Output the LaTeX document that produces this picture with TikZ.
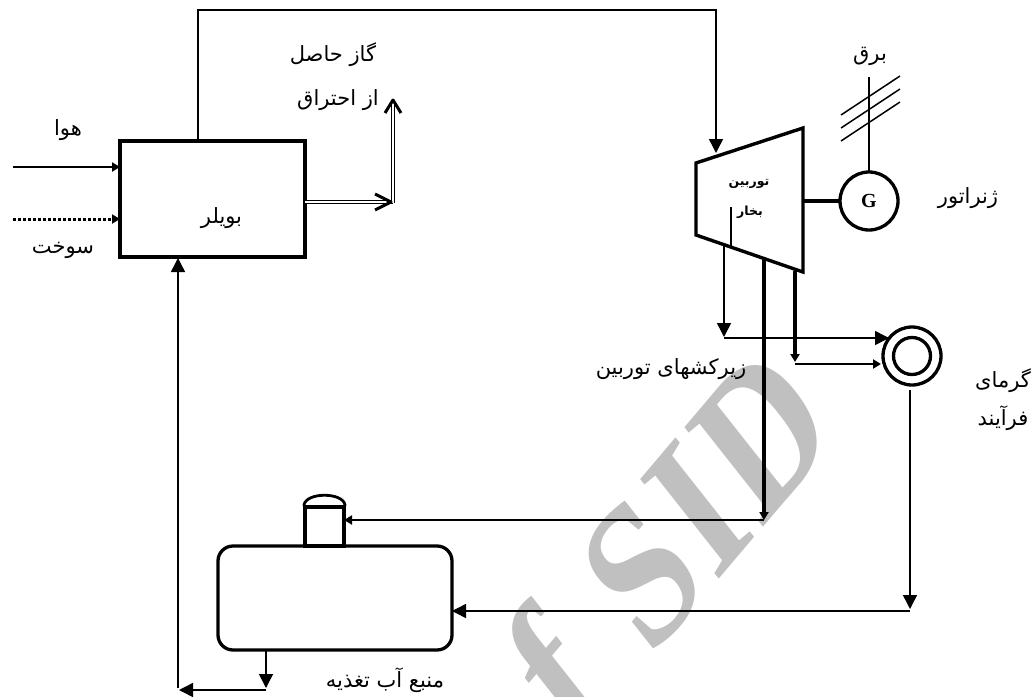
\documentclass[tikz,border=0pt]{standalone}
\usepackage{fontspec}
\usepackage{tikz}
\usetikzlibrary{arrows.meta,calc,positioning}
\setmainfont{Liberation Serif}
\newfontfamily\farsi[Script=Arabic]{DejaVu Sans}
\TeXXeTstate=1
\newcommand{\fa}[1]{{\farsi\beginR #1\endR}}
\definecolor{markgray}{HTML}{C0C0C0}
\begin{document}
\begin{tikzpicture}[line cap=butt,line join=miter,
  bigtip/.style={-{Triangle[length=14pt,width=14pt]}},
  smalltip/.style={-{Triangle[length=8pt,width=9pt]}},
  thin line/.style={line width=1.5pt},
  mid line/.style={line width=2.8pt},
  thick line/.style={line width=3.4pt},
  unit/.style={draw,line width=3.3pt,inner sep=0pt,outer sep=0pt},
  caption/.style={inner sep=0pt,font=\fontsize{21}{25}\selectfont},
  gas line/.style={line width=.9pt,double,double distance=1.6pt}]
\begin{scope}[x=1pt,y=-1pt]
  \path[use as bounding box] (0,0) rectangle (1033,696);
  \fill[white] (0,0) rectangle (1033,696);
  \clip (0,0) rectangle (1033,696);
  % watermark
  \begin{scope}[cm={1.1,1.3,-1.2,1.52,(841,435)},transform shape]
    \node[text=markgray,anchor=base east,inner sep=0pt,font=\fontsize{100}{100}\selectfont\bfseries] (mark) at (0,0) {f\kern.08em\ S\kern.03em I\kern.03em D};
  \end{scope}
  % boiler, turbine, generator
  \node[unit,minimum width=185pt,minimum height=116pt] (boiler) at (212.5,199) {};
  \coordinate (tl) at (696,163);
  \coordinate (tr) at (803,128);
  \coordinate (br) at (803,272);
  \coordinate (bl) at (696,235);
  \draw[thick line] (tl)--(tr)--(br)--(bl)--cycle;
  \node[unit,circle,minimum size=58pt] (gen) at (869,201) {\fontsize{20}{20}\selectfont\bfseries G};
  \draw[line width=4.5pt] (803,201)--(gen.west);
  % heat consumer and feed tank
  \node[unit,circle,minimum size=58pt] (heat) at (912,356) {};
  \node[unit,circle,minimum size=37pt] (heatin) at (heat.center) {};
  \node[unit,rounded corners=15pt,minimum width=234pt,minimum height=104pt] (tank) at (335,598) {};
  \node[unit,minimum width=39pt,minimum height=39pt,anchor=south] (neck) at (324.5,546) {};
  \draw[line width=2.8pt,line join=round] (neck.north west)--++(-1,-2) .. controls (306,492) and (343,492) .. (345,505)--(neck.north east)--cycle;
  % inlets of the boiler
  \coordinate (airin) at (13,167);
  \coordinate (fuelin) at (13,219);
  \draw[mid line,smalltip] (airin)--(airin -| boiler.west);
  \draw[line width=3pt,dash pattern=on 3pt off 2pt,-{Triangle[length=8pt,width=9pt]}] (fuelin)--(fuelin -| boiler.west);
  % flue gas
  \coordinate (gascorner) at (393,202);
  \coordinate (gastop) at (393,100);
  \draw[gas line] (boiler.east |- gascorner)--(gascorner);
  \draw[gas line] (393,203)--(gastop);
  \draw[line width=3pt,line join=round] (375,194)--(391,202)--(375,210);
  \draw[line width=3pt,line join=round] (385,113)--(393,100)--(401,113);
  % steam to the turbine
  \coordinate (steamup) at (198,10);
  \coordinate (steamin) at (716,153);
  \draw[thin line,bigtip] (boiler.north -| steamup)--(steamup)--(steamup -| steamin)--(steamin);
  % generator wires
  \coordinate (wiretop) at (869,77);
  \draw[thin line] (gen.north)--(wiretop);
  \draw[thin line] (841,115)--(900,76);
  \draw[thin line] (841,128)--(900,89);
  \draw[thin line] (841,141)--(900,102);
  % turbine extractions
  \coordinate (extra) at (724,337);
  \coordinate (extb) at (795,362);
  \coordinate (extc) at (764,520);
  \draw[thin line] (731,207)--(731,246);
  \draw[thin line,bigtip] (724,246)--(extra);
  \draw[thin line,bigtip] (724,338)--(889,338);
  \draw[thick line,smalltip] (795,271)--(extb);
  \draw[mid line,smalltip] (795,364)--(881,364);
  \draw[thick line,smalltip] (764,260)--(extc);
  \draw[mid line,smalltip] (764,520)--(neck.east |- extc);
  % return to the tank
  \coordinate (backdown) at (910,609);
  \draw[thin line,bigtip] (910,390)--(backdown);
  \draw[thin line,bigtip] (backdown |- 0,611)--(tank.east |- 0,611);
  % feed water to the boiler
  \coordinate (feedout) at (266,688);
  \coordinate (feedleft) at (179,690);
  \draw[thin line,bigtip] (feedout |- tank.south)--(feedout);
  \draw[thin line,bigtip] (266,690)--(feedleft);
  \draw[thin line,bigtip] (178,688)--(178,258);
  % captions
  \node[caption] (lgasa) at (333,55) {\fa{گاز حاصل}};
  \node[caption] (lgasb) at (338,100) {\fa{از احتراق}};
  \node[caption] (lair) at (68,130) {\fa{هوا}};
  \node[caption] (lfuel) at (63,250) {\fa{سوخت}};
  \node[caption] at (boiler.center) [xshift=9pt,yshift=-19pt] (lboiler) {\fa{بویلر}};
  \node[inner sep=0pt,font=\fontsize{12.5}{14}\selectfont\bfseries] (lturba) at (749,184) {\fa{توربین}};
  \node[inner sep=0pt,font=\fontsize{12.5}{14}\selectfont\bfseries] (lturbb) at (750,212) {\fa{بخار}};
  \node[caption] (lelec) at (870,56) {\fa{برق}};
  \node[caption] (lgen) at (968,198) {\fa{ژنراتور}};
  \node[caption] (lheata) at (1003,381) {\fa{گرمای}};
  \node[caption] (lheatb) at (1003,418) {\fa{فرآیند}};
  \node[caption] (lbleed) at (671,369) {\fa{زیرکشهای توربین}};
  \node[caption] (ltank) at (385,680) {\fa{منبع آب تغذیه}};
\end{scope}
\end{tikzpicture}
\end{document}
